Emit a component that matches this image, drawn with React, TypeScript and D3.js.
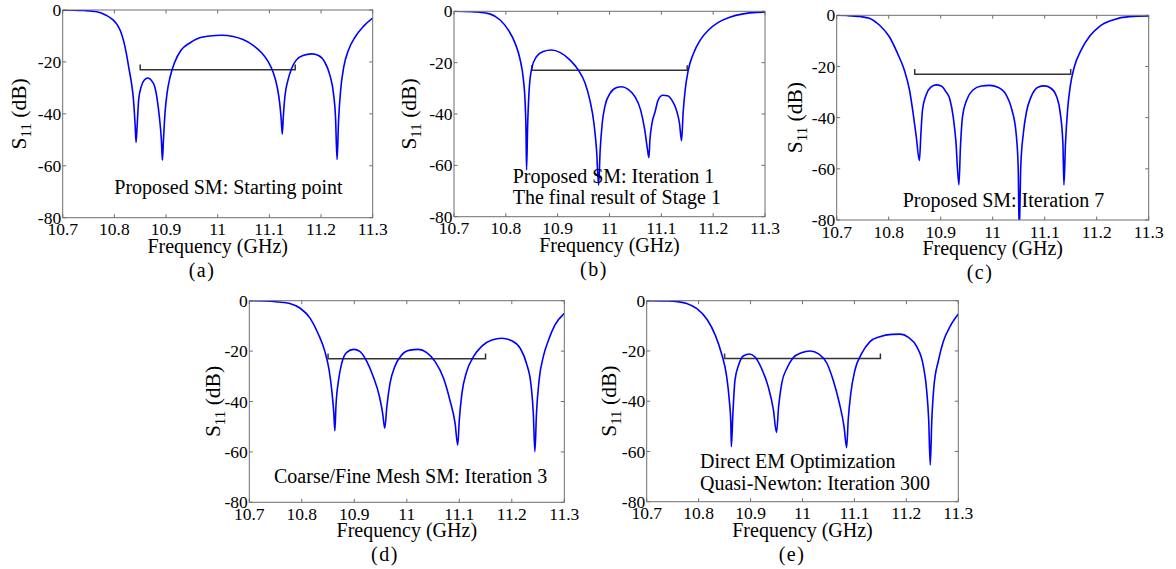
import React from 'react';
import * as d3 from 'd3';

const xTicks = [10.7, 10.8, 10.9, 11, 11.1, 11.2, 11.3];
const xTickLabels = ['10.7', '10.8', '10.9', '11', '11.1', '11.2', '11.3'];
const yTicks = [0, -20, -40, -60, -80];
const yTickLabels = ['0', '-20', '-40', '-60', '-80'];
const specBand = [10.85, 11.15];
const specLevel = -23;
const specCap = -21;

const curveA: [number, number][] = [
  [10.7, 0], [10.72, -0.05], [10.74, -0.2], [10.766, -0.65], [10.784, -2], [10.798, -3.9], [10.806, -5.8],
  [10.812, -8.2], [10.818, -12], [10.823, -16.5], [10.828, -22.3], [10.833, -28], [10.837, -34.6], [10.84, -43.6], [10.842, -51],
  [10.844, -44.9], [10.847, -34.6], [10.852, -29.5], [10.858, -27], [10.865, -26.2], [10.871, -27],
  [10.878, -29.5], [10.883, -34.6], [10.887, -41], [10.891, -50], [10.893, -57.9], [10.895, -50],
  [10.898, -39.7], [10.902, -32], [10.908, -25.7], [10.917, -20], [10.929, -15.5], [10.946, -12.7],
  [10.965, -10.7], [10.984, -10], [11.007, -9.7], [11.03, -10.2], [11.049, -11.4], [11.068, -13.5],
  [11.085, -16.5], [11.098, -20], [11.107, -23.8], [11.115, -29.5], [11.12, -35.9], [11.123, -42.3],
  [11.125, -47.8], [11.127, -41], [11.13, -33.4], [11.136, -27], [11.143, -22.5], [11.152, -19.3],
  [11.165, -17.5], [11.182, -16.9], [11.195, -17.5], [11.207, -20], [11.217, -25], [11.224, -32],
  [11.228, -41], [11.231, -57.6], [11.234, -42.3], [11.238, -30.8], [11.244, -21.9], [11.253, -15.5],
  [11.266, -10.4], [11.282, -6.3], [11.3, -3.1],
];

const curveB: [number, number][] = [
  [10.7, 0], [10.72, -0.05], [10.745, -0.3], [10.769, -1], [10.789, -3.4], [10.805, -7.3], [10.818, -12.5],
  [10.827, -18.3], [10.834, -26.8], [10.837, -34.5], [10.839, -47.5], [10.84, -61.8], [10.842, -45],
  [10.845, -30.6], [10.85, -22.2], [10.859, -17.7], [10.872, -15.7], [10.888, -15.1], [10.905, -16.1],
  [10.924, -19], [10.94, -22.9], [10.953, -28], [10.962, -34.5], [10.97, -43.6], [10.975, -54],
  [10.979, -67.7], [10.982, -54], [10.986, -43.6], [10.991, -37.1], [11.001, -32], [11.014, -29.7],
  [11.023, -29.4], [11.036, -30.4], [11.049, -33.2], [11.06, -38.4], [11.068, -46.2], [11.073, -53.4],
  [11.076, -57], [11.078, -50], [11.082, -43.6], [11.088, -39.1], [11.094, -34.5], [11.103, -32.7],
  [11.112, -32.9], [11.12, -34.5], [11.129, -38.4], [11.135, -43.6], [11.139, -50.4], [11.142, -39.7],
  [11.146, -30.6], [11.152, -22.9], [11.162, -16.4], [11.175, -11.2], [11.191, -7.3], [11.21, -4.3],
  [11.232, -2.3], [11.258, -1], [11.284, -0.4], [11.3, -0.3],
];

const curveC: [number, number][] = [
  [10.7, 0], [10.72, -0.1], [10.745, -0.5], [10.763, -1.2], [10.782, -3.8], [10.801, -8.3], [10.817, -14.9],
  [10.83, -21.4], [10.84, -29.2], [10.847, -38.3], [10.853, -47.4], [10.859, -56.8], [10.862, -46],
  [10.865, -37], [10.872, -31.1], [10.881, -28.1], [10.891, -27.2], [10.901, -27.6], [10.91, -29.8],
  [10.918, -33.1], [10.924, -39.6], [10.929, -48.7], [10.935, -66.3], [10.938, -51.3], [10.942, -39.6],
  [10.95, -33.1], [10.962, -29.2], [10.978, -27.6], [10.994, -27.4], [11.01, -28.1], [11.026, -31.1],
  [11.037, -37], [11.045, -46.1], [11.049, -59.2], [11.051, -85], [11.054, -59], [11.059, -46],
  [11.065, -37.7], [11.074, -31.8], [11.087, -28.1], [11.099, -27.6], [11.112, -28.5], [11.123, -31.8],
  [11.13, -38.3], [11.135, -50], [11.137, -66.3], [11.14, -50], [11.144, -37], [11.149, -27.9],
  [11.157, -20.1], [11.17, -13.6], [11.186, -8.3], [11.205, -4.4], [11.231, -1.8], [11.263, -0.5],
  [11.3, -0.3],
];

const curveD: [number, number][] = [
  [10.7, 0], [10.73, -0.1], [10.755, -0.5], [10.777, -1.1], [10.797, -3], [10.816, -7], [10.831, -13],
  [10.844, -20.2], [10.852, -27.5], [10.857, -35.4], [10.861, -44.7], [10.863, -51.6], [10.865, -42],
  [10.87, -31.5], [10.876, -24.9], [10.885, -20.6], [10.899, -19.3], [10.911, -20.2], [10.924, -24.2],
  [10.936, -30.1], [10.948, -38.1], [10.954, -44.7], [10.958, -50.6], [10.962, -42], [10.968, -32.8],
  [10.977, -26.2], [10.99, -21.6], [11.006, -19.6], [11.022, -19.3], [11.038, -20.6], [11.054, -24.2],
  [11.07, -30.8], [11.082, -39.4], [11.092, -48.7], [11.097, -57.3], [11.1, -47.3], [11.105, -36.8],
  [11.114, -28.2], [11.127, -22.2], [11.143, -18], [11.162, -15.6], [11.181, -14.9], [11.2, -15.9],
  [11.216, -18.9], [11.228, -24.9], [11.237, -34.1], [11.241, -44.7], [11.244, -59.9], [11.247, -44.7],
  [11.252, -31.5], [11.26, -22.2], [11.27, -15.6], [11.282, -9.7], [11.3, -5],
];

const curveE: [number, number][] = [
  [10.7, 0], [10.74, -0.1], [10.76, -0.4], [10.777, -1.1], [10.796, -3.1], [10.816, -7.4], [10.832, -13.7],
  [10.844, -21], [10.854, -30.2], [10.859, -39.5], [10.862, -48.8], [10.863, -58.1], [10.866, -44.8],
  [10.87, -31.6], [10.877, -25.6], [10.886, -22], [10.898, -21.2], [10.909, -22.5], [10.921, -26.9],
  [10.934, -34.2], [10.944, -43.5], [10.95, -52.5], [10.954, -42.2], [10.96, -32.9], [10.97, -26.9],
  [10.982, -22.7], [10.998, -20.7], [11.015, -20], [11.031, -21.2], [11.047, -24.9], [11.059, -31.6],
  [11.071, -40.8], [11.08, -50.1], [11.085, -58.5], [11.088, -47.5], [11.093, -36.9], [11.101, -27.6],
  [11.114, -21], [11.13, -16.3], [11.149, -14.3], [11.172, -13.4], [11.188, -13.3], [11.204, -14.6],
  [11.22, -18.3], [11.233, -26.3], [11.239, -35.5], [11.243, -47.5], [11.246, -65.4], [11.249, -47.5],
  [11.253, -34.2], [11.262, -23.6], [11.271, -16.3], [11.284, -10.3], [11.3, -5.3],
];

const notesA = ['Proposed SM: Starting point'];
const notesB = ['Proposed SM: Iteration 1', 'The final result of Stage 1'];
const notesC = ['Proposed SM: Iteration 7'];
const notesD = ['Coarse/Fine Mesh SM: Iteration 3'];
const notesE = ['Direct EM Optimization', 'Quasi-Newton: Iteration 300'];
const tags = ['(a)', '(b)', '(c)', '(d)', '(e)'];
const xTitle = 'Frequency (GHz)';

const panels = [
  { data: curveA, notes: notesA, tag: tags[0], x0: 62.7, x1: 372.7, y0: 10, y1: 217.7, ylabX: 18, tagX: 202, noteX: 114.3, noteY: [194.3] },
  { data: curveB, notes: notesB, tag: tags[1], x0: 454, x1: 765, y0: 11.3, y1: 216.7, ylabX: 408, tagX: 594, noteX: 512.7, noteY: [182.7, 204] },
  { data: curveC, notes: notesC, tag: tags[2], x0: 836.7, x1: 1148.7, y0: 15.3, y1: 220, ylabX: 794, tagX: 980, noteX: 902.7, noteY: [207.3] },
  { data: curveD, notes: notesD, tag: tags[3], x0: 249.3, x1: 564.3, y0: 300.7, y1: 502.3, ylabX: 212, tagX: 385, noteX: 274, noteY: [483.3] },
  { data: curveE, notes: notesE, tag: tags[4], x0: 646.7, x1: 958.3, y0: 300.7, y1: 501.7, ylabX: 608, tagX: 792, noteX: 700, noteY: [468.3, 490] },
];

const FONT = '"Liberation Serif", "Times New Roman", serif';
const AXIS = '#6e6e6e';

function Panel({ p, i }: { p: typeof panels[number]; i: number }) {
  const x = d3.scaleLinear().domain([10.7, 11.3]).range([p.x0, p.x1]);
  const y = d3.scaleLinear().domain([-80, 0]).range([p.y1, p.y0]);
  const line = d3
    .line<[number, number]>()
    .x((d) => x(d[0]))
    .y((d) => y(d[1]))
    .curve(d3.curveMonotoneX);
  const clipId = `clip-${i}`;
  const tl = 3.5;
  const specPath = `M${x(specBand[0])},${y(specCap)}V${y(specLevel)}H${x(specBand[1])}V${y(specCap)}`;
  const cy = (p.y0 + p.y1) / 2;
  return (
    <g>
      <defs>
        <clipPath id={clipId}>
          <rect x={p.x0} y={p.y0} width={p.x1 - p.x0} height={p.y1 - p.y0} />
        </clipPath>
      </defs>
      <rect x={p.x0} y={p.y0} width={p.x1 - p.x0} height={p.y1 - p.y0} fill="#fff" />
      {xTicks.map((t, k) => (
        <g key={'xt' + k}>
          <line x1={x(t)} x2={x(t)} y1={p.y1} y2={p.y1 - tl} stroke={AXIS} strokeWidth={1} />
          <line x1={x(t)} x2={x(t)} y1={p.y0} y2={p.y0 + tl} stroke={AXIS} strokeWidth={1} />
          <text x={x(t)} y={p.y1 + 17.5} textAnchor="middle" fontFamily={FONT} fontSize={17.5} fill="#000">
            {xTickLabels[k]}
          </text>
        </g>
      ))}
      {yTicks.map((t, k) => (
        <g key={'yt' + k}>
          <line x1={p.x0} x2={p.x0 + tl} y1={y(t)} y2={y(t)} stroke={AXIS} strokeWidth={1} />
          <line x1={p.x1} x2={p.x1 - tl} y1={y(t)} y2={y(t)} stroke={AXIS} strokeWidth={1} />
          <text x={p.x0 - 1.5} y={y(t)} dy="0.35em" textAnchor="end" fontFamily={FONT} fontSize={17.5} fill="#000">
            {yTickLabels[k]}
          </text>
        </g>
      ))}
      <path d={specPath} fill="none" stroke="#333" strokeWidth={1.5} />
      <path d={line(p.data) || ''} fill="none" stroke="#0000ff" strokeWidth={1.6} clipPath={`url(#${clipId})`} />
      <rect x={p.x0} y={p.y0} width={p.x1 - p.x0} height={p.y1 - p.y0} fill="none" stroke={AXIS} strokeWidth={1} />
      {p.notes.map((n, k) => (
        <text key={'n' + k} x={p.noteX} y={p.noteY[k]} fontFamily={FONT} fontSize={20} fill="#000">
          {n}
        </text>
      ))}
      <text x={(p.x0 + p.x1) / 2} y={p.y1 + 35} textAnchor="middle" fontFamily={FONT} fontSize={20} fill="#000">
        {xTitle}
      </text>
      <text
        transform={`translate(${p.ylabX + 7.5},${cy}) rotate(-90)`}
        textAnchor="middle"
        fontFamily={FONT}
        fontSize={21.5}
        fill="#000"
      >
        S<tspan fontSize={15} dy={5}>11</tspan>
        <tspan dy={-5}> (dB)</tspan>
      </text>
      <text x={p.tagX} y={p.y1 + 59} textAnchor="middle" fontFamily={FONT} fontSize={20} letterSpacing={1.5} fill="#000">
        {p.tag}
      </text>
    </g>
  );
}

export default function App() {
  return (
    <svg
      width={1176}
      height={569}
      viewBox="0 0 1176 569"
      style={{ position: 'absolute', left: 0, top: 0, background: '#fff' }}
    >
      <rect x={0} y={0} width={1176} height={569} fill="#fff" />
      {panels.map((p, i) => (
        <Panel key={i} p={p} i={i} />
      ))}
    </svg>
  );
}
